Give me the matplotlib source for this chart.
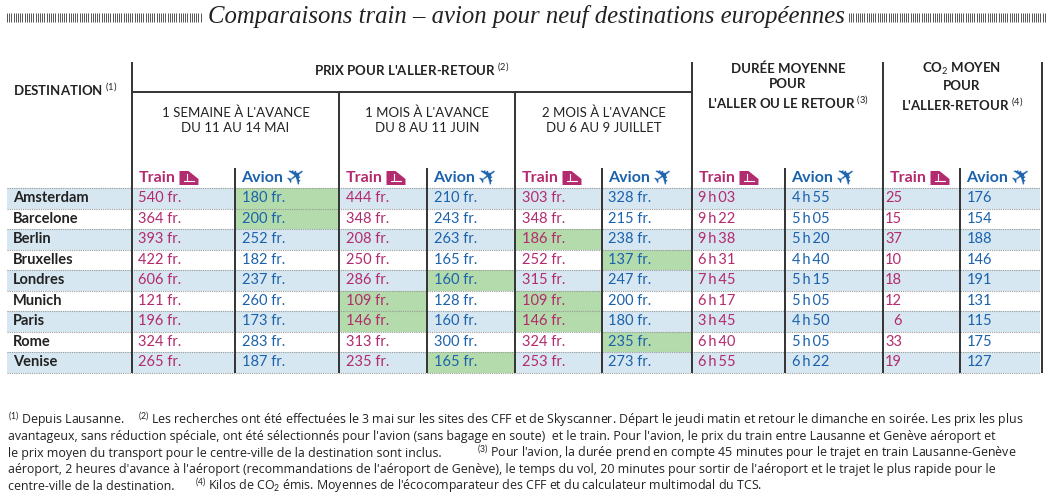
import numpy as np
import matplotlib
matplotlib.use("Agg")
import matplotlib.pyplot as plt
from matplotlib.patches import Rectangle, Polygon

plt.rcParams['font.family'] = ['Lato', 'DejaVu Sans']
plt.rcParams['mathtext.fontset'] = 'custom'
plt.rcParams['mathtext.rm'] = 'Lato'
plt.rcParams['mathtext.it'] = 'Lato'
plt.rcParams['mathtext.bf'] = 'Lato:bold'

# data
title = "Comparaisons train – avion pour neuf destinations européennes"
destinations = ["Amsterdam", "Barcelone", "Berlin", "Bruxelles", "Londres",
                "Munich", "Paris", "Rome", "Venise"]
train_semaine = [540, 364, 393, 422, 606, 121, 196, 324, 265]
avion_semaine = [180, 200, 252, 182, 237, 260, 173, 283, 187]
train_mois = [444, 348, 208, 250, 286, 109, 146, 313, 235]
avion_mois = [210, 243, 263, 165, 160, 128, 160, 300, 165]
train_2mois = [303, 348, 186, 252, 315, 109, 146, 324, 253]
avion_2mois = [328, 215, 238, 137, 247, 200, 180, 235, 273]
duree_train = ["9h03", "9h22", "9h38", "6h31", "7h45", "6h17", "3h45", "6h40", "6h55"]
duree_avion = ["4h55", "5h05", "5h20", "4h40", "5h15", "5h05", "4h50", "5h05", "6h22"]
co2_train = [25, 15, 37, 10, 18, 12, 6, 33, 19]
co2_avion = [176, 154, 188, 146, 191, 131, 115, 175, 127]

periodes = ["1 SEMAINE À L'AVANCE\nDU 11 AU 14 MAI",
            "1 MOIS À L'AVANCE\nDU 8 AU 11 JUIN",
            "2 MOIS À L'AVANCE\nDU 6 AU 9 JUILLET"]

# footnotes: each line is a list of (x, text) pieces
footnotes = [
    [(8, r"$^{(1)}$ Depuis Lausanne."),
     (138, r"$^{(2)}$ Les recherches ont été effectuées le 3 mai sur les sites des CFF et de Skyscanner. Départ le jeudi matin et retour le dimanche en soirée. Les prix les plus")],
    [(8, "avantageux, sans réduction spéciale, ont été sélectionnés pour l'avion (sans bagage en soute)  et le train. Pour l'avion, le prix du train entre Lausanne et Genève aéroport et")],
    [(8, "le prix moyen du transport pour le centre-ville de la destination sont inclus."),
     (477, r"$^{(3)}$ Pour l'avion, la durée prend en compte 45 minutes pour le trajet en train Lausanne-Genève")],
    [(8, "aéroport, 2 heures d'avance à l'aéroport (recommandations de l'aéroport de Genève), le temps du vol, 20 minutes pour sortir de l'aéroport et le trajet le plus rapide pour le")],
    [(8, "centre-ville de la destination."),
     (195, r"$^{(4)}$ Kilos de CO$_2$ émis. Moyennes de l'écocomparateur des CFF et du calculateur multimodal du TCS.")],
]

# colours
c_train = "#b42a6e"
c_avion = "#1b62ad"
c_dark = "#222222"
c_stripe = "#d6e7f1"
c_green = "#b3dbab"
c_line = "#333333"

fig = plt.figure(figsize=(10.49, 5.0), dpi=100)
ax = fig.add_axes([0, 0, 1, 1])
ax.set_xlim(0, 1049)
ax.set_ylim(500, 0)
ax.axis("off")

# title with hatched bars
ax.text(526, 17, title, family="Liberation Serif", style="italic", fontsize=17.8,
        color=c_dark, ha="center", va="center")
ax.vlines(np.arange(7, 201, 2.2), 13, 22, color="#555555", lw=0.7)
ax.vlines(np.arange(849, 1045, 2.2), 13, 22, color="#555555", lw=0.7)

# layout
edges = [132, 235, 339, 427, 515, 602, 692, 785, 883, 960, 1042]
row_top = 188
row_h = 20.5
n = len(destinations)
x_left, x_right = 7, 1040
pad = 6.5

# stripes
for i in range(n):
    y0 = row_top + i * row_h
    if i % 2 == 0:
        ax.add_patch(Rectangle((x_left, y0), x_right - x_left, row_h, color=c_stripe, lw=0))

# green highlight = cheapest price per destination
prix = [train_semaine, avion_semaine, train_mois, avion_mois, train_2mois, avion_2mois]
for i in range(n):
    best = min(col[i] for col in prix)
    for j, col in enumerate(prix):
        if col[i] == best:
            ax.add_patch(Rectangle((edges[j] + 1, row_top + i * row_h), edges[j + 1] - edges[j] - 2,
                                   row_h, color=c_green, lw=0))

# dotted row separators
for i in range(n + 1):
    ax.hlines(row_top + i * row_h, x_left, x_right, color="#9a9a9a", lw=0.8, linestyles=(0, (1, 1)))

# vertical lines
bottom = row_top + n * row_h
for x in [132, 692, 883, 1042]:
    ax.vlines(x, 62, bottom, color=c_line, lw=1.4)
for x in [339, 515]:
    ax.vlines(x, 92, bottom, color=c_line, lw=1.4)
for x in [235, 427, 602, 785, 960]:
    ax.vlines(x, 168, bottom, color=c_line, lw=1.4)
ax.hlines(92, 132, 692, color=c_line, lw=1.4)

# headers
hdr = dict(fontsize=9.5, fontweight="bold", color=c_dark)
ax.text(13, 90, r"DESTINATION $^{(1)}$", ha="left", va="center", **hdr)
ax.text(412, 70, r"PRIX POUR L'ALLER-RETOUR $^{(2)}$", ha="center", va="center", **hdr)
ax.text(788, 87, "DURÉE MOYENNE\nPOUR\n" + r"L'ALLER OU LE RETOUR $^{(3)}$", ha="center", va="center",
        linespacing=1.3, **hdr)
ax.text(962, 87, "CO$_2$ MOYEN\nPOUR\n" + r"L'ALLER-RETOUR $^{(4)}$", ha="center", va="center",
        linespacing=1.3, **hdr)
for k, p in enumerate(periodes):
    ax.text((edges[2 * k] + edges[2 * k + 2]) / 2, 120, p, ha="center", va="center",
            fontsize=9.5, color=c_dark, linespacing=1.3)

# Train / Avion labels with icons
for k in range(5):
    xt = edges[2 * k] + pad
    xa = edges[2 * k + 1] + pad
    ax.text(xt, 178, "Train", ha="left", va="center", fontsize=11.5, fontweight="bold", color=c_train)
    ix = xt + 41
    ax.add_patch(Polygon([(ix, 185), (ix + 19, 185), (ix + 19, 179), (ix + 9, 171), (ix, 171)],
                         closed=True, color=c_train, lw=0))
    ax.plot([ix + 4, ix + 14], [181, 181], color="white", lw=0.8)
    ax.plot([ix + 7, ix + 7], [174, 181], color="white", lw=0.8)
    ax.text(xa, 178, "Avion", ha="left", va="center", fontsize=11.5, fontweight="bold", color=c_avion)
    ax.text(xa + 55, 177, "\u2708", ha="center", va="center", fontsize=17, color=c_avion,
            family="DejaVu Sans", rotation=35)

# cells
num = dict(fontsize=10.5, va="center")
for i in range(n):
    yc = row_top + (i + 0.5) * row_h
    ax.text(13, yc, destinations[i], ha="left", fontweight="bold", color=c_dark, **num)
    for j, col in enumerate(prix):
        ax.text(edges[j] + pad, yc, f"{col[i]} fr.", ha="left",
                color=c_train if j % 2 == 0 else c_avion, **num)
    ax.text(edges[6] + pad, yc, duree_train[i].replace("h", "\u2009h\u2009"), ha="left", color=c_train, **num)
    ax.text(edges[7] + pad, yc, duree_avion[i].replace("h", "\u2009h\u2009"), ha="left", color=c_avion, **num)
    ax.text(edges[8] + 19, yc, str(co2_train[i]), ha="right", color=c_train, **num)
    ax.text(edges[9] + pad, yc, str(co2_avion[i]), ha="left", color=c_avion, **num)

# footnotes
for k, pieces in enumerate(footnotes):
    for x, txt in pieces:
        ax.text(x, 420 + k * 16.6, txt, ha="left", va="center", fontsize=8.95, color=c_dark,
                family=["Open Sans", "DejaVu Sans"])

fig.savefig("out.png", dpi=100)
